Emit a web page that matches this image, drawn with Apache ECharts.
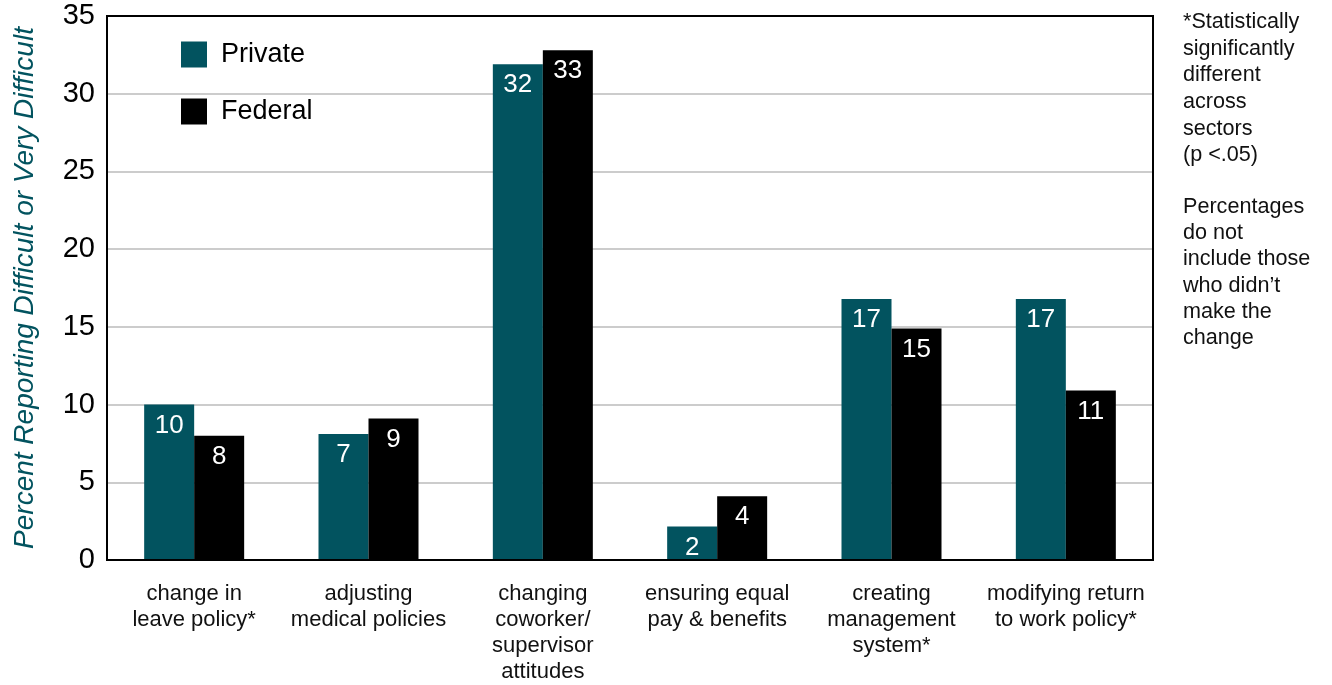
<!DOCTYPE html>
<html><head><meta charset="utf-8">
<script src="https://cdn.jsdelivr.net/npm/echarts@6/dist/echarts.min.js"></script>
<style>html,body{margin:0;padding:0;background:#fff}#c{width:1332px;height:685px}</style>
</head><body><div id="c"></div>
<script>
const categories = ['change in\nleave policy*', 'adjusting\nmedical policies', 'changing\ncoworker/\nsupervisor\nattitudes', 'ensuring equal\npay & benefits', 'creating\nmanagement\nsystem*', 'modifying return\nto work policy*'];
const privateValues = [10.0, 8.1, 31.9, 2.15, 16.8, 16.8];
const federalValues = [8.0, 9.1, 32.8, 4.1, 14.9, 10.9];
const privateLabels = ['10', '7', '32', '2', '17', '17'];
const federalLabels = ['8', '9', '33', '4', '15', '11'];
const yTicks = [0, 5, 10, 15, 20, 25, 30, 35];
const noteLines1 = ['*Statistically', 'significantly', 'different', 'across', 'sectors', '(p <.05)'];
const noteLines2 = ['Percentages', 'do not', 'include those', 'who didn\u2019t', 'make the', 'change'];

const FONT = 'Liberation Sans';
const TEAL = '#02535f';
const chart = echarts.init(document.getElementById('c'));
const lbl = (arr) => ({
  show: true, position: 'insideTop', distance: 8, color: '#fff', fontSize: 26, fontFamily: FONT,
  formatter: p => arr[p.dataIndex]
});
chart.setOption({
  animation: false,
  textStyle: { fontFamily: FONT },
  grid: { left: 107, right: 179, top: 16, bottom: 119, show: true, borderColor: '#000', borderWidth: 2, backgroundColor: 'transparent', z: 10 },
  legend: {
    orient: 'vertical', left: 181, top: 41, padding: 0, itemWidth: 26, itemHeight: 26, itemGap: 30,
    icon: 'rect', textStyle: { fontSize: 27, color: '#000', fontFamily: FONT, padding: [0, 0, 0, 9] },
    data: ['Private', 'Federal']
  },
  xAxis: {
    type: 'category', data: categories,
    axisLine: { lineStyle: { color: '#000', width: 2 } },
    axisTick: { show: false },
    axisLabel: { interval: 0, color: '#111', fontSize: 22, lineHeight: 26, margin: 21, fontFamily: FONT }
  },
  yAxis: {
    type: 'value', min: yTicks[0], max: yTicks[yTicks.length - 1], interval: 5,
    name: 'Percent Reporting Difficult or Very Difficult', nameLocation: 'middle', nameGap: 68,
    nameTextStyle: { color: TEAL, fontSize: 28, fontStyle: 'italic', fontFamily: FONT },
    axisLine: { show: true, lineStyle: { color: '#000', width: 2 } },
    axisTick: { show: false },
    axisLabel: { color: '#000', fontSize: 29, margin: 12, fontFamily: FONT },
    splitLine: { showMinLine: false, showMaxLine: false, lineStyle: { color: '#cccccc', width: 2 } }
  },
  series: [
    { name: 'Private', type: 'bar', data: privateValues, barWidth: 50, barGap: '0%', itemStyle: { color: TEAL }, label: lbl(privateLabels) },
    { name: 'Federal', type: 'bar', data: federalValues, barWidth: 50, itemStyle: { color: '#000' }, label: lbl(federalLabels) }
  ],
  graphic: [
    { type: 'text', left: 1183, top: 9, style: { text: noteLines1.join('\n'), fontSize: 21.6, lineHeight: 26.6, fill: '#111', fontFamily: FONT } },
    { type: 'text', left: 1183, top: 194, style: { text: noteLines2.join('\n'), fontSize: 21.6, lineHeight: 26.2, fill: '#111', fontFamily: FONT } }
  ]
});
</script></body></html>
